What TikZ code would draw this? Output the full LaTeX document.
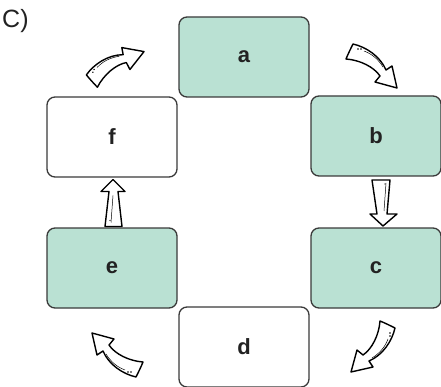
\documentclass[tikz,border=0pt]{standalone}
\usepackage{fontspec}
\setmainfont{Liberation Sans}
\usetikzlibrary{calc}
\definecolor{mint}{HTML}{BAE1D3}
\definecolor{edgegray}{HTML}{3A3A3A}
\definecolor{ink}{HTML}{222222}
\tikzset{
  box/.style={draw=edgegray, line width=1.3pt, rounded corners=8pt,
    minimum width=130pt, minimum height=80pt, inner sep=0pt,
    font=\fontsize{22}{26}\selectfont\bfseries, text=ink},
  filledbox/.style={box, fill=mint},
  plainbox/.style={box, fill=white},
  sketch/.style={draw=black, line width=1.4pt, fill=white, line join=round},
  thinline/.style={draw=black, line width=0.5pt},
  curvy/.pic={
    \path[sketch] (-19,-22) .. controls (-6,-19) and (8,-10) .. (14,4)
      -- (20,0) -- (25,22) -- (3,16) -- (8,10)
      .. controls (2,1) and (-12,-6) .. (-26,-7)
      .. controls (-24,-12) and (-21,-18) .. cycle;
    \draw[thinline] (-8,-15) .. controls (0,-12) and (6,-7) .. (11,1);
    \fill (-14,-17) circle (0.8pt) (-11,-17) circle (0.8pt);
  },
  downarrow/.pic={
    \path[sketch] (-4,-22) -- (14,-22) -- (11,12) -- (21,12) -- (7,24)
      -- (-6,12) -- (1,12) -- cycle;
    \draw[thinline] (10,-19) -- (8,9);
    \fill (9,-18) circle (0.7pt);
  },
  uparrow/.pic={
    \path[sketch] (-7,24) -- (10,24) -- (6,-11) -- (13,-11) -- (1,-23)
      -- (-11,-11) -- (-3,-11) -- cycle;
    \draw[thinline] (-1,20) -- (1,-7);
    \fill (-2,18) circle (0.7pt);
  },
}
\begin{document}
\begin{tikzpicture}[x=1pt,y=-1pt]
  \useasboundingbox (0,0) rectangle (441,387);
  \node[anchor=west, font=\fontsize{25}{30}\selectfont, text=ink, inner sep=0pt] (lbl) at (2,21) {C)};
  \node[filledbox] (a) at (244,57) {a};
  \node[filledbox] (b) at (376,136) {b};
  \node[filledbox] (c) at (376,268) {c};
  \node[plainbox]  (d) at (244,347) {d};
  \node[filledbox] (e) at (112,268) {e};
  \node[plainbox]  (f) at (112,137) {f};
  % straight arrows between boxes
  \pic at ($(b.south)!0.5!(c.north)$) {downarrow};
  \pic at ($(e.north)!0.5!(f.south)$) {uparrow};
  % curved arrows
  \pic[rotate=67] at (114,66) {curvy};
  \pic at (372,66) {curvy};
  \pic[rotate=-90] at (373,347) {curvy};
  \pic[rotate=180] at (117,355) {curvy};
\end{tikzpicture}
\end{document}
